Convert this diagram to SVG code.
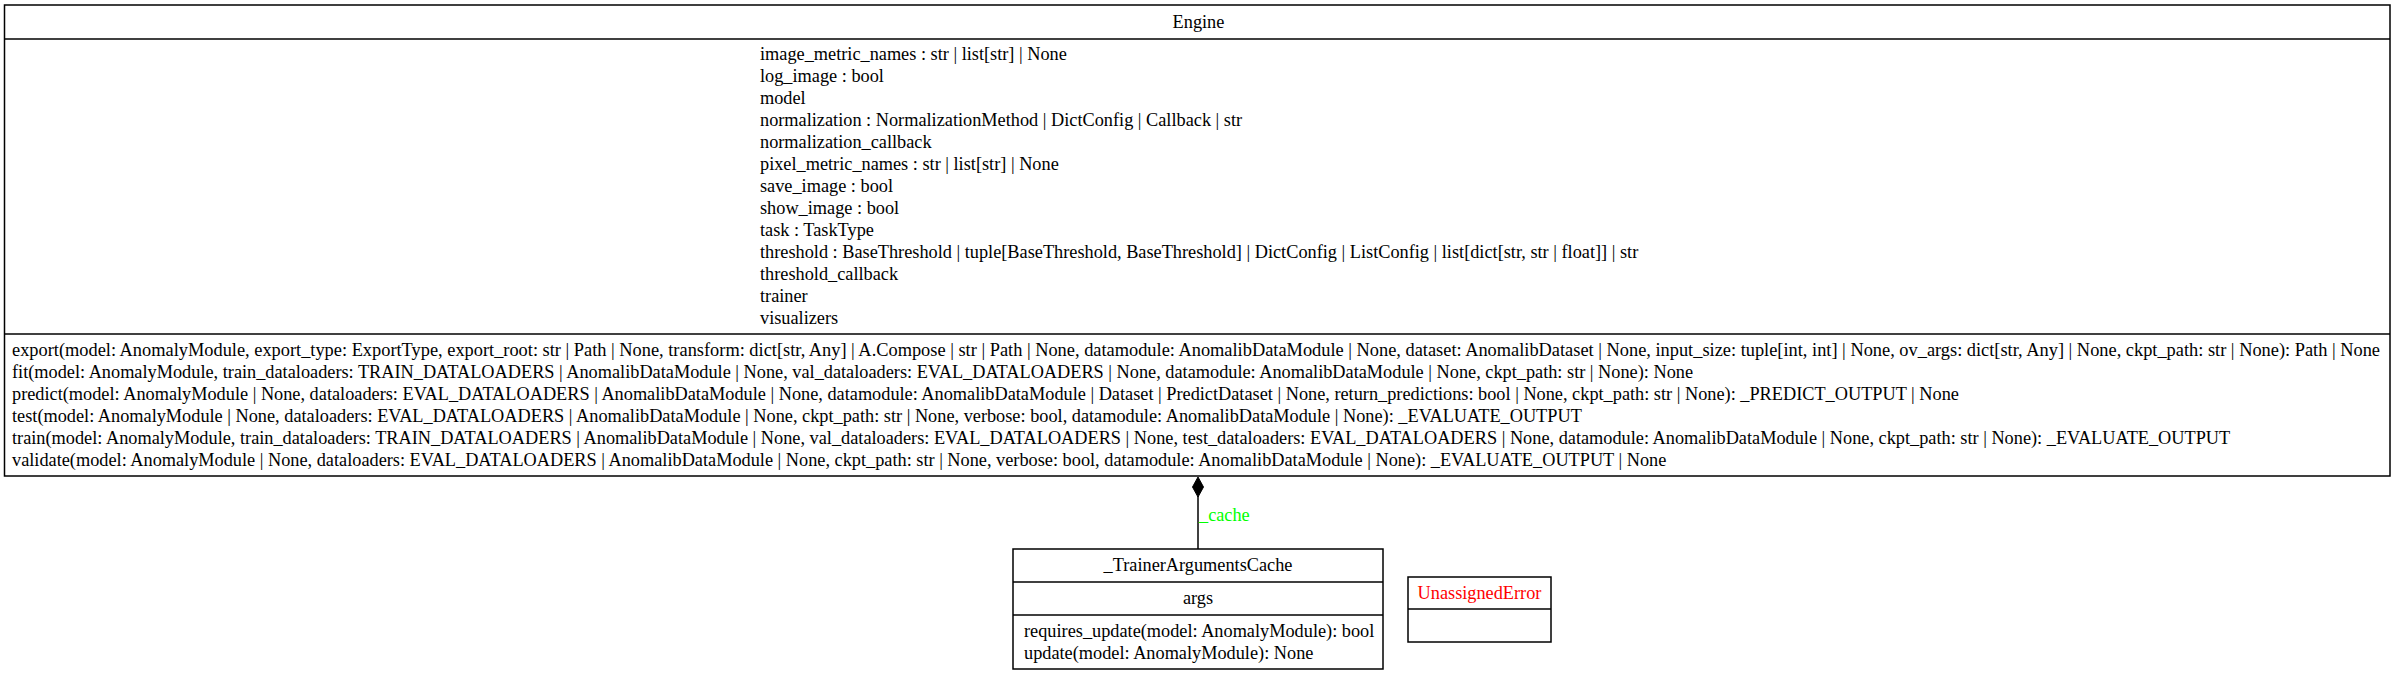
<svg xmlns="http://www.w3.org/2000/svg" width="2397" height="675" viewBox="0 0 2397 675">
<style>
text { font-family: "Liberation Serif", "Times New Roman", serif; font-size: 18.3px; fill: #000; }
.c { text-anchor: middle; }
.box { fill: #fff; stroke: #000; stroke-width: 1.5; }
.sep { stroke: #000; stroke-width: 1.5; }
.edge { stroke: #000; stroke-width: 1.5; fill: none; }
</style>
<rect width="2397" height="675" fill="#fff"/>
<g id="Engine">
<rect class="box" x="4.5" y="5" width="2385.5" height="471"/>
<line class="sep" x1="4.5" y1="39" x2="2390" y2="39"/>
<line class="sep" x1="4.5" y1="334" x2="2390" y2="334"/>
<text class="c" x="1198.5" y="28">Engine</text>
<text x="760" y="60">image_metric_names : str | list[str] | None</text>
<text x="760" y="82">log_image : bool</text>
<text x="760" y="104">model</text>
<text x="760" y="126">normalization : NormalizationMethod | DictConfig | Callback | str</text>
<text x="760" y="148">normalization_callback</text>
<text x="760" y="170">pixel_metric_names : str | list[str] | None</text>
<text x="760" y="192">save_image : bool</text>
<text x="760" y="214">show_image : bool</text>
<text x="760" y="236">task : TaskType</text>
<text x="760" y="258">threshold : BaseThreshold | tuple[BaseThreshold, BaseThreshold] | DictConfig | ListConfig | list[dict[str, str | float]] | str</text>
<text x="760" y="280">threshold_callback</text>
<text x="760" y="302">trainer</text>
<text x="760" y="324">visualizers</text>
<text x="12" y="356" textLength="2368" lengthAdjust="spacingAndGlyphs">export(model: AnomalyModule, export_type: ExportType, export_root: str | Path | None, transform: dict[str, Any] | A.Compose | str | Path | None, datamodule: AnomalibDataModule | None, dataset: AnomalibDataset | None, input_size: tuple[int, int] | None, ov_args: dict[str, Any] | None, ckpt_path: str | None): Path | None</text>
<text x="12" y="378">fit(model: AnomalyModule, train_dataloaders: TRAIN_DATALOADERS | AnomalibDataModule | None, val_dataloaders: EVAL_DATALOADERS | None, datamodule: AnomalibDataModule | None, ckpt_path: str | None): None</text>
<text x="12" y="400">predict(model: AnomalyModule | None, dataloaders: EVAL_DATALOADERS | AnomalibDataModule | None, datamodule: AnomalibDataModule | Dataset | PredictDataset | None, return_predictions: bool | None, ckpt_path: str | None): _PREDICT_OUTPUT | None</text>
<text x="12" y="422">test(model: AnomalyModule | None, dataloaders: EVAL_DATALOADERS | AnomalibDataModule | None, ckpt_path: str | None, verbose: bool, datamodule: AnomalibDataModule | None): _EVALUATE_OUTPUT</text>
<text x="12" y="444">train(model: AnomalyModule, train_dataloaders: TRAIN_DATALOADERS | AnomalibDataModule | None, val_dataloaders: EVAL_DATALOADERS | None, test_dataloaders: EVAL_DATALOADERS | None, datamodule: AnomalibDataModule | None, ckpt_path: str | None): _EVALUATE_OUTPUT</text>
<text x="12" y="466">validate(model: AnomalyModule | None, dataloaders: EVAL_DATALOADERS | AnomalibDataModule | None, ckpt_path: str | None, verbose: bool, datamodule: AnomalibDataModule | None): _EVALUATE_OUTPUT | None</text>
</g>
<g id="TrainerArgumentsCache">
<rect class="box" x="1013" y="549" width="370" height="120"/>
<line class="sep" x1="1013" y1="582" x2="1383" y2="582"/>
<line class="sep" x1="1013" y1="615" x2="1383" y2="615"/>
<text class="c" x="1198" y="571">_TrainerArgumentsCache</text>
<text class="c" x="1198" y="604">args</text>
<text x="1024" y="637">requires_update(model: AnomalyModule): bool</text>
<text x="1024" y="659">update(model: AnomalyModule): None</text>
</g>
<g id="UnassignedError">
<rect class="box" x="1408" y="577" width="143" height="65"/>
<line class="sep" x1="1408" y1="609" x2="1551" y2="609"/>
<text class="c" x="1479.5" y="599" style="fill:#ff0000">UnassignedError</text>
</g>
<g id="connectors">
<line class="edge" x1="1198" y1="496" x2="1198" y2="549"/>
<polygon points="1198,477 1203.5,487 1198,497 1192.5,487" fill="#000" stroke="#000" stroke-width="1"/>
<text x="1199" y="521" style="fill:#00ff00">_cache</text>
</g>
</svg>
